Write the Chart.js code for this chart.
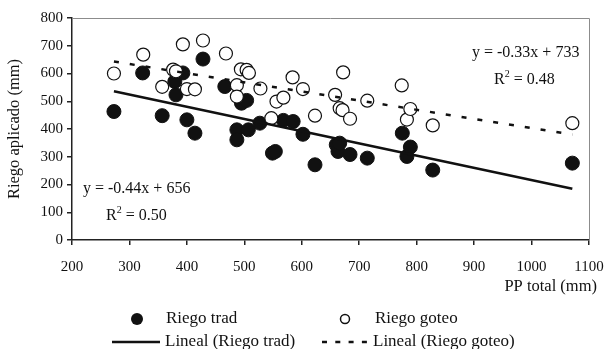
<!DOCTYPE html>
<html>
<head>
<meta charset="utf-8">
<script src="https://cdn.jsdelivr.net/npm/chart.js@4.4.1/dist/chart.umd.min.js"></script>
<style>
html,body{margin:0;padding:0;background:#fff;}
canvas{display:block;}
</style>
</head>
<body>
<canvas id="c" width="608" height="349"></canvas>
<script>
// ---- data ----
const tradX = [273,323,357,379,381,393,400,414,428,466,487,487,495,504,507,527,549,554,568,585,602,623,660,663,666,684,714,775,783,789,828,1071];
const tradY = [463,602,448,571,523,602,433,385,652,553,397,361,493,503,397,421,313,319,431,427,381,271,343,319,349,308,295,385,301,335,252,277];
const goteoX = [273,324,357,376,381,393,400,414,428,468,487,487,494,504,508,528,547,556,568,584,602,623,658,666,671,672,684,714,774,783,789,828,1071];
const goteoY = [600,668,552,614,608,705,544,543,719,672,558,517,615,613,602,546,439,499,513,586,544,448,523,475,468,604,437,502,557,434,472,413,421];
const trendX = [273, 1071];
const tradTrendY = [536, 185];
const goteoTrendY = [643, 380];
const xTickRange = [200, 1100, 100];
const yTickRange = [0, 800, 100];
const seriesNames = ["Riego trad", "Riego goteo", "Lineal (Riego trad)", "Lineal (Riego goteo)"];
const xTitle = "PP total (mm)";
const yTitle = "Riego aplicado (mm)";
const eqTrad = ["y = -0.44x + 656", "0.50"];
const eqGoteo = ["y = -0.33x + 733", "0.48"];

const pts = (xs, ys) => xs.map((x, i) => ({x: x, y: ys[i]}));
const SERIF = "'Liberation Serif', 'Times New Roman', serif";

function drawR2(ctx, x, y, val, size) {
  ctx.textAlign = 'left';
  ctx.textBaseline = 'middle';
  ctx.font = size + "px " + SERIF;
  ctx.fillText("R", x, y);
  let w = ctx.measureText("R").width;
  ctx.font = Math.round(size * 0.62) + "px " + SERIF;
  ctx.fillText("2", x + w, y - 6);
  let w2 = ctx.measureText("2").width;
  ctx.font = size + "px " + SERIF;
  ctx.fillText(" = " + val, x + w + w2, y);
}

const decor = {
  id: 'decor',
  afterDraw(chart) {
    const ctx = chart.ctx;
    const a = chart.chartArea;
    ctx.save();
    // top & right frame
    ctx.strokeStyle = '#8c8c8c';
    ctx.lineWidth = 1;
    ctx.beginPath();
    ctx.moveTo(a.left, a.top + 0.5);
    ctx.lineTo(a.right + 0.5, a.top + 0.5);
    ctx.lineTo(a.right + 0.5, a.bottom);
    ctx.stroke();

    ctx.fillStyle = '#111';
    // axis titles
    ctx.font = "16.5px " + SERIF;
    ctx.textAlign = 'right';
    ctx.textBaseline = 'middle';
    ctx.fillText(xTitle, 597, 287);
    ctx.save();
    ctx.translate(15, (a.top + a.bottom) / 2);
    ctx.rotate(-Math.PI / 2);
    ctx.textAlign = 'center';
    ctx.fillText(yTitle, 0, 0);
    ctx.restore();

    // equations
    ctx.textAlign = 'left';
    ctx.font = "16px " + SERIF;
    ctx.fillText(eqTrad[0], 83, 189);
    drawR2(ctx, 106, 216, eqTrad[1], 16);
    ctx.fillText(eqGoteo[0], 472, 53);
    drawR2(ctx, 494, 80, eqGoteo[1], 16);

    // legend
    const r1 = 319, r2 = 342;
    ctx.fillStyle = '#111';
    ctx.beginPath(); ctx.arc(137, r1, 6, 0, Math.PI * 2); ctx.fill();
    ctx.strokeStyle = '#111'; ctx.lineWidth = 1.5;
    ctx.beginPath(); ctx.arc(345, r1, 4.5, 0, Math.PI * 2); ctx.stroke();
    ctx.lineWidth = 2.5;
    ctx.beginPath(); ctx.moveTo(112, r2); ctx.lineTo(160, r2); ctx.stroke();
    ctx.setLineDash([5, 8.3]);
    ctx.beginPath(); ctx.moveTo(322, r2); ctx.lineTo(370, r2); ctx.stroke();
    ctx.setLineDash([]);
    ctx.font = "17px " + SERIF;
    ctx.textAlign = 'left';
    ctx.textBaseline = 'middle';
    ctx.fillText(seriesNames[0], 166, r1);
    ctx.fillText(seriesNames[1], 375, r1);
    ctx.fillText(seriesNames[2], 165, r2);
    ctx.fillText(seriesNames[3], 373, r2);
    ctx.restore();
  }
};

new Chart(document.getElementById('c'), {
  type: 'scatter',
  data: {
    datasets: [
      { label: seriesNames[0], data: pts(tradX, tradY), order: 3,
        backgroundColor: '#111', borderColor: '#111', borderWidth: 1, pointRadius: 7, pointHoverRadius: 7 },
      { label: seriesNames[1], data: pts(goteoX, goteoY), order: 2,
        backgroundColor: '#fff', borderColor: '#111', borderWidth: 1.2, pointRadius: 6.5, pointHoverRadius: 6.5 },
      { label: seriesNames[2], data: pts(trendX, tradTrendY), order: 1, type: 'line', showLine: true,
        borderColor: '#111', borderWidth: 2.5, pointRadius: 0, fill: false },
      { label: seriesNames[3], data: pts(trendX, goteoTrendY), order: 0, type: 'line', showLine: true,
        borderColor: '#111', borderWidth: 2.5, borderDash: [5, 11], pointRadius: 0, fill: false }
    ]
  },
  options: {
    responsive: false,
    animation: false,
    devicePixelRatio: 1,
    layout: { padding: { top: 18, right: 19, left: 0, bottom: 0 } },
    plugins: { legend: { display: false }, tooltip: { enabled: false } },
    scales: {
      x: {
        type: 'linear', min: xTickRange[0], max: xTickRange[1],
        ticks: { stepSize: xTickRange[2], color: '#111', padding: 13, font: { family: SERIF, size: 15 }, maxRotation: 0,
                 callback: v => String(v) },
        grid: { drawOnChartArea: false, drawTicks: true, tickLength: 5, color: '#222', lineWidth: 1.5 },
        border: { display: true, color: '#222', width: 1.5 },
        afterFit(s) { s.height = 109; s.paddingLeft = 0; s.paddingRight = 0; }
      },
      y: {
        type: 'linear', min: yTickRange[0], max: yTickRange[1],
        ticks: { stepSize: yTickRange[2], color: '#111', padding: 4, font: { family: SERIF, size: 15 },
                 callback: v => String(v) },
        grid: { drawOnChartArea: false, drawTicks: true, tickLength: 5, color: '#222', lineWidth: 1.5 },
        border: { display: true, color: '#222', width: 1.5 },
        afterFit(s) { s.width = 72; s.paddingTop = 0; s.paddingBottom = 0; }
      }
    }
  },
  plugins: [decor]
});
</script>
</body>
</html>
